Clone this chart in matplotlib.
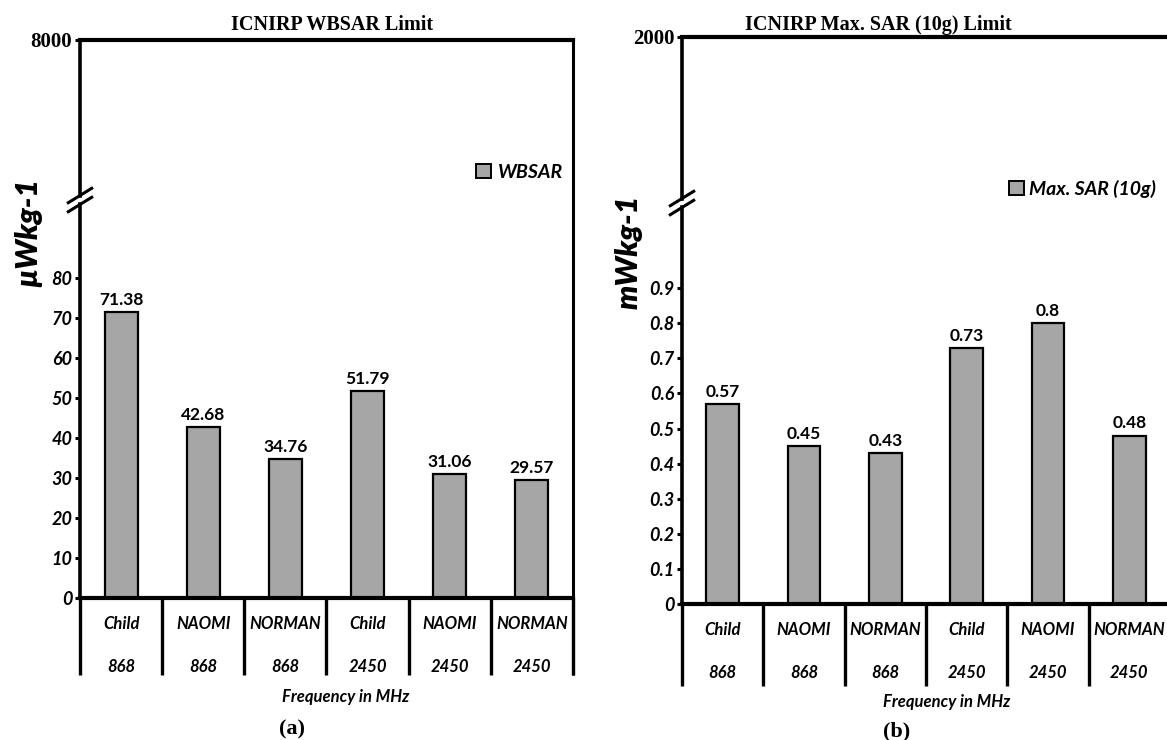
import matplotlib.pyplot as plt
from matplotlib.lines import Line2D
from matplotlib.patches import Patch

W, H = 1167, 740

groups = ['Child', 'NAOMI', 'NORMAN', 'Child', 'NAOMI', 'NORMAN']
freqs = ['868', '868', '868', '2450', '2450', '2450']
wbsar = [71.38, 42.68, 34.76, 51.79, 31.06, 29.57]
maxsar = [0.57, 0.45, 0.43, 0.73, 0.8, 0.48]
wbsar_ticks = [0, 10, 20, 30, 40, 50, 60, 70, 80]
sar_ticks = [0, 0.1, 0.2, 0.3, 0.4, 0.5, 0.6, 0.7, 0.8, 0.9]
sar_ticklabels = ['0', '0.1', '0.2', '0.3', '0.4', '0.5', '0.6', '0.7', '0.8', '0.9']

SANS = ['Lato', 'DejaVu Sans']
SERIF = 'Liberation Serif'
BARCOL = '#a6a6a6'

fig = plt.figure(figsize=(W / 100, H / 100), dpi=100)


def fx(x):
    return x / W


def fy(y):
    return 1 - y / H


def rect(l, t, r, b):
    return [fx(l), fy(b), (r - l) / W, (b - t) / H]


def fline(xs, ys, lw=2.4):
    fig.add_artist(Line2D([fx(x) for x in xs], [fy(y) for y in ys],
                          transform=fig.transFigure, color='black', lw=lw,
                          solid_capstyle='butt'))


def panel(left, right, top, brk, zero, ymax, limit, values, ticks, ticklabels,
          catlen, fmt):
    # upper part: limit line
    up = fig.add_axes(rect(left, top, right, brk - 4))
    up.set_xlim(-0.5, 5.5)
    up.set_ylim(0, limit)
    up.set_yticks([limit])
    up.set_yticklabels([str(limit)])
    up.set_xticks([])
    for s in ['bottom', 'right']:
        up.spines[s].set_visible(False)
    up.spines['left'].set_linewidth(2.6)
    up.spines['top'].set_linewidth(3)
    up.tick_params(axis='y', length=3.5, width=2.2, pad=2, labelsize=15,
                   labelfontfamily=SERIF)
    for t in up.get_yticklabels():
        t.set_fontweight('bold')

    # lower part: bars
    lo = fig.add_axes(rect(left, brk + 4, right, zero))
    bars = lo.bar(range(len(values)), values, width=0.4, color=BARCOL,
                  edgecolor='black', linewidth=1.6)
    lo.bar_label(bars, labels=[fmt(v) for v in values], padding=3,
                 fontfamily=SANS, fontweight='bold', fontsize=12.5)
    lo.set_xlim(-0.5, 5.5)
    lo.set_ylim(0, ymax)
    lo.set_yticks(ticks)
    lo.set_yticklabels(ticklabels, fontfamily=SANS, fontweight='bold',
                       fontstyle='italic', fontsize=13)
    lo.set_xticks(range(len(values)))
    lo.set_xticklabels([g + '\n' + f for g, f in zip(groups, freqs)],
                       fontfamily=SANS, fontweight='bold', fontstyle='italic',
                       fontsize=12, linespacing=3.1)
    lo.set_xticks([i - 0.5 for i in range(len(values) + 1)], minor=True)
    lo.tick_params(axis='x', which='major', length=0, pad=13)
    lo.tick_params(axis='x', which='minor', length=catlen, width=2.4)
    lo.tick_params(axis='y', length=3.5, width=2.2, pad=2)
    for s in ['top', 'right']:
        lo.spines[s].set_visible(False)
    lo.spines['left'].set_linewidth(2.6)
    lo.spines['bottom'].set_linewidth(3)

    # axis break mark
    for dy in (-4.5, 4.5):
        fline([left - 13, left + 13], [brk + dy + 8, brk + dy - 8], lw=2.2)
    return up, lo


# (a) WBSAR
panel(80, 573, 40, 200, 598, (598 - 204) / 40 * 10, 8000, wbsar, wbsar_ticks,
      [str(t) for t in wbsar_ticks], (675 - 598) * 0.72, lambda v: f'{v:.2f}')
fline([573, 573], [38, 675], lw=2.2)

# (b) Max SAR (10g)
panel(682, 1170, 37, 203, 604, (604 - 207) / 351, 2000, maxsar, sar_ticks,
      sar_ticklabels, (686 - 604) * 0.72, lambda v: f'{v:g}')

# titles / labels
fig.text(fx(332), fy(25), 'ICNIRP WBSAR Limit', ha='center', va='center',
         fontfamily=SERIF, fontweight='bold', fontsize=14.5)
fig.text(fx(878), fy(25), 'ICNIRP Max. SAR (10g) Limit', ha='center', va='center',
         fontfamily=SERIF, fontweight='bold', fontsize=14.5)
fig.text(fx(28), fy(232), 'µWkg-1', rotation=90, ha='center', va='center',
         fontfamily=SANS, fontweight='heavy', fontstyle='italic', fontsize=22)
fig.text(fx(629), fy(252), 'mWkg-1', rotation=90, ha='center', va='center',
         fontfamily=SANS, fontweight='heavy', fontstyle='italic', fontsize=22)
fig.text(fx(346), fy(697), 'Frequency in MHz', ha='center', va='center',
         fontfamily=SANS, fontweight='bold', fontstyle='italic', fontsize=12)
fig.text(fx(947), fy(702), 'Frequency in MHz', ha='center', va='center',
         fontfamily=SANS, fontweight='bold', fontstyle='italic', fontsize=12)
fig.text(fx(292), fy(729), '(a)', ha='center', va='center',
         fontfamily=SERIF, fontweight='bold', fontsize=16)
fig.text(fx(897), fy(731), '(b)', ha='center', va='center',
         fontfamily=SERIF, fontweight='bold', fontsize=16)

# legends
legprops = dict(family=SANS, weight='bold', style='italic', size=14)
handle = Patch(facecolor=BARCOL, edgecolor='black', linewidth=1.4)
fig.legend([handle], ['WBSAR'], loc='center left', bbox_to_anchor=(fx(476), fy(172)),
           frameon=False, prop=legprops, handlelength=0.75, handleheight=0.75,
           handletextpad=0.4, borderpad=0, borderaxespad=0)
fig.legend([handle], ['Max. SAR (10g)'], loc='center left',
           bbox_to_anchor=(fx(1009), fy(189)), frameon=False, prop=legprops,
           handlelength=0.75, handleheight=0.75, handletextpad=0.3,
           borderpad=0, borderaxespad=0)

fig.savefig('out.png', dpi=100)
